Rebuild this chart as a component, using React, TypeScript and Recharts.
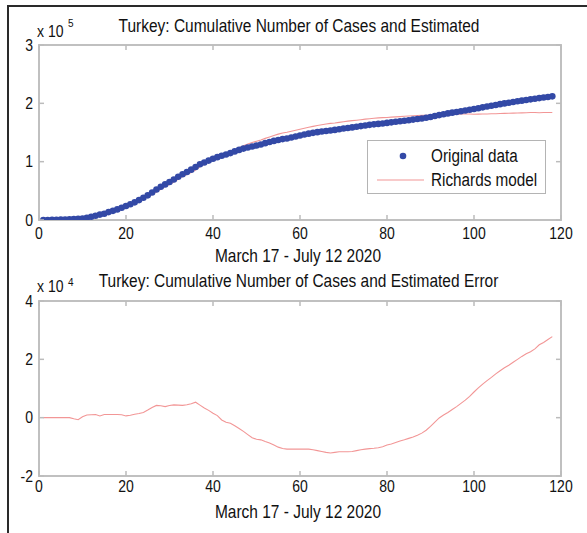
import React from "react";
import {
  ComposedChart,
  Line,
  Scatter,
  XAxis,
  YAxis,
  Legend,
  ReferenceArea,
} from "recharts";

// Day index 1..118 (March 17 - July 12 2020)
const cases: number[] = [
  47, 98, 191, 359, 670, 947, 1236, 1529, 1872, 2433, 3629, 5698, 7402, 9217, 10827,
  13531, 15679, 18135, 20921, 23934, 27069, 30217, 34109, 38226, 42282, 47029, 52167, 56956, 61049, 65111,
  69392, 74193, 78546, 82329, 86306, 90980, 95591, 98674, 101790, 104912, 107773, 110130, 112261, 114653, 117589,
  120204, 122392, 124375, 126045, 127659, 129491, 131744, 133721, 135569, 137115, 138657, 139771, 141475, 143114, 144749,
  146457, 148067, 149435, 150593, 151615, 152587, 153548, 154500, 155686, 156827, 157814, 158762, 159797, 160979, 162120, 163103,
  163942, 164769, 165555, 166422, 167410, 168340, 169218, 170132, 171121, 172114, 173036, 174023, 175218, 176677, 178239,
  179831, 181298, 182727, 184031, 185245, 186493, 187685, 188897, 190165, 191657, 193115, 194511, 195883, 197239, 198613,
  199906, 201098, 202284, 203456, 204610, 205758, 206844, 207897, 208938, 209962, 210965, 211981,
];

// Estimated error (data - Richards model)
const errors: number[] = [
  0, 0, 0, 0, 0, 0, 0, -400, -700, 300,
  900, 1000, 1100, 600, 1100, 1100, 1100, 1100, 1000, 600,
  800, 1200, 1400, 1800, 2600, 3500, 4200, 4100, 3800, 4200,
  4400, 4300, 4200, 4400, 4800, 5300, 4300, 3300, 2500, 1500,
  700, -800, -1600, -1900, -2800, -3700, -4700, -5800, -6900, -7400,
  -7600, -8200, -8700, -9400, -10100, -10600, -10800, -10800, -10800, -10800,
  -10800, -10800, -11000, -11300, -11600, -11900, -12100, -11900, -11700, -11700,
  -11700, -11600, -11300, -11000, -10800, -10600, -10500, -10300, -10000, -9400,
  -9000, -8500, -8000, -7600, -7100, -6600, -6000, -5300, -4300, -3000,
  -1500, -100, 900, 1800, 2800, 3800, 4900, 6000, 7300, 8800,
  10200, 11500, 12700, 13800, 15000, 16100, 17100, 18000, 19000, 20000,
  21000, 21900, 22600, 23600, 25000, 25800, 26800, 27800,
];

const xDomain = [0, 120];
const yDomainTop = [0, 300000];
const yDomainBottom = [-20000, 40000];
const xTicks = [0, 20, 40, 60, 80, 100, 120];
const yTicksTop = [0, 100000, 200000, 300000];
const yTicksBottom = [-20000, 0, 20000, 40000];

const topTitle = "Turkey: Cumulative Number of Cases and Estimated";
const bottomTitle = "Turkey: Cumulative Number of Cases and Estimated Error";
const xTitle = "March 17 - July 12 2020";
const seriesNames = ["Original data", "Richards model"];

const topData = cases.map((c, i) => ({
  day: i + 1,
  cases: c,
  model: c - errors[i],
}));
const bottomData = errors.map((e, i) => ({ day: i + 1, err: e }));

const FONT = "'Liberation Sans', Arial, Helvetica, sans-serif";
const AXIS = "#bcbcbc";
const BLUE = "#3349a6";
const RED = "#f29696";
const SY = 1.15; // vertical stretch of the original's lettering
const TL = 5; // inward tick length

const makeXTick = (margin: number) => (p: any) => {
  const base = p.y - margin;
  return (
    <g>
      <rect x={p.x - 0.75} y={base - TL} width={1.5} height={TL} fill={AXIS} />
      <g transform={`translate(${p.x},${p.y}) scale(1,${SY})`}>
        <text x={0} y={0} dy="0.72em" textAnchor="middle" fontSize={14} fontFamily={FONT} fill="#111">
          {p.payload.value}
        </text>
      </g>
    </g>
  );
};
const XTickTop = makeXTick(7);
const XTickBottom = makeXTick(4);

const makeYTick = (div: number, margin: number) => (p: any) => {
  const base = p.x + margin;
  return (
    <g>
      <rect x={base} y={p.y - 0.75} width={TL} height={1.5} fill={AXIS} />
      <g transform={`translate(${p.x},${p.y}) scale(1,${SY})`}>
        <text x={0} y={0} dy="0.36em" textAnchor="end" fontSize={14} fontFamily={FONT} fill="#111">
          {String(p.payload.value / div)}
        </text>
      </g>
    </g>
  );
};
const YTickTop = makeYTick(100000, 6);
const YTickBottom = makeYTick(10000, 6);

const TopTickMark = (p: any) => (
  <rect x={p.x - 0.75} y={p.y} width={1.5} height={TL} fill={AXIS} />
);
const RightTickMark = (p: any) => (
  <rect x={p.x - TL} y={p.y - 0.75} width={TL} height={1.5} fill={AXIS} />
);

const Dot = (p: any) => (
  <circle cx={p.cx} cy={p.cy} r={3.3} fill={BLUE} stroke="none" />
);

const STxt = (p: { x: number; y: number; size: number; anchor?: string; children: any }) => (
  <g transform={`translate(${p.x},${p.y}) scale(1,${SY})`}>
    <text x={0} y={0} fontSize={p.size} textAnchor={(p.anchor as any) || "start"}>
      {p.children}
    </text>
  </g>
);

const LegendBox = (props: any) => {
  const payload = props.payload || [];
  return (
    <div
      style={{
        width: 179,
        height: 54,
        border: "1px solid #b4b4b4",
        background: "#fff",
        boxSizing: "border-box",
        fontFamily: FONT,
        fontSize: 15.3,
        color: "#111",
        position: "relative",
      }}
    >
      {payload.map((entry: any, i: number) => (
        <div
          key={i}
          style={{
            position: "absolute",
            left: 0,
            top: i === 0 ? 5 : 29,
            height: 20,
            width: 178,
          }}
        >
          <svg
            width={60}
            height={20}
            style={{ position: "absolute", left: 0, top: 0 }}
          >
            {i === 0 ? (
              <circle cx={35} cy={10} r={3.3} fill={BLUE} />
            ) : (
              <line x1={9} x2={56} y1={10} y2={10} stroke={RED} strokeWidth={1.2} />
            )}
          </svg>
          <span
            style={{
              position: "absolute",
              left: 63,
              top: 1,
              lineHeight: "18px",
              whiteSpace: "nowrap",
              transform: `scaleY(${SY})`,
              transformOrigin: "0 50%",
            }}
          >
            {seriesNames[i]}
          </span>
        </div>
      ))}
    </div>
  );
};

const boxStyle = (top: number, height: number): React.CSSProperties => ({
  position: "absolute",
  left: 38,
  top,
  width: 524,
  height,
  border: "2px solid #cdcdcd",
  boxSizing: "border-box",
  pointerEvents: "none",
});

export default function App() {
  return (
    <div
      style={{
        position: "absolute",
        left: 0,
        top: 0,
        width: 587,
        height: 533,
        background: "#fff",
        overflow: "hidden",
      }}
    >
      {/* figure frame */}
      <div style={{ position: "absolute", left: 7, top: 5, width: 580, height: 2, background: "#2a2a2a" }} />
      <div style={{ position: "absolute", left: 7, top: 5, width: 2, height: 528, background: "#2a2a2a" }} />

      {/* axes boxes */}
      <div style={boxStyle(44, 177)} />
      <div style={boxStyle(300, 177)} />

      {/* top chart */}
      <div style={{ position: "absolute", left: 0, top: 0 }}>
        <ComposedChart
          width={587}
          height={260}
          data={topData}
          margin={{ top: 25, left: 9, right: 6, bottom: 10 }}
        >
          <XAxis
            xAxisId="b"
            dataKey="day"
            type="number"
            domain={xDomain}
            ticks={xTicks}
            height={30}
            tickSize={0}
            tickMargin={7}
            tick={<XTickTop />}
            axisLine={false}
            tickLine={false}
            allowDataOverflow
          />
          <XAxis
            xAxisId="t"
            orientation="top"
            dataKey="day"
            type="number"
            domain={xDomain}
            ticks={xTicks}
            height={20}
            tickSize={0}
            tickMargin={0}
            tick={<TopTickMark />}
            axisLine={false}
            tickLine={false}
            allowDataOverflow
          />
          <YAxis
            yAxisId="l"
            type="number"
            domain={yDomainTop}
            ticks={yTicksTop}
            width={30}
            tickSize={0}
            tickMargin={6}
            tick={<YTickTop />}
            axisLine={false}
            tickLine={false}
            allowDataOverflow
          />
          <YAxis
            yAxisId="r"
            orientation="right"
            type="number"
            domain={yDomainTop}
            ticks={yTicksTop}
            width={20}
            tickSize={0}
            tickMargin={0}
            tick={<RightTickMark />}
            axisLine={false}
            tickLine={false}
            allowDataOverflow
          />
          <ReferenceArea
            xAxisId="b"
            yAxisId="l"
            x1={xDomain[0]}
            x2={xDomain[1]}
            y1={yDomainTop[0]}
            y2={yDomainTop[1]}
            fill="none"
            fillOpacity={0}
            stroke={AXIS}
            strokeOpacity={1}
            strokeWidth={1.5}
            ifOverflow="visible"
          />
          <Scatter
            xAxisId="b"
            yAxisId="l"
            name={seriesNames[0]}
            dataKey="cases"
            fill={BLUE}
            shape={Dot}
            isAnimationActive={false}
          />
          <Line
            xAxisId="t"
            yAxisId="r"
            name={seriesNames[1]}
            dataKey="model"
            type="linear"
            stroke={RED}
            strokeWidth={1.1}
            dot={false}
            activeDot={false}
            isAnimationActive={false}
          />
          <Legend
            layout="horizontal"
            verticalAlign="middle"
            align="center"
            content={<LegendBox />}
            wrapperStyle={{ left: 367, top: 140, width: 179, height: 54 }}
          />
        </ComposedChart>
      </div>

      {/* bottom chart */}
      <div style={{ position: "absolute", left: 0, top: 260 }}>
        <ComposedChart
          width={587}
          height={273}
          data={bottomData}
          margin={{ top: 21, left: 9, right: 6, bottom: 27 }}
        >
          <XAxis
            xAxisId="b"
            dataKey="day"
            type="number"
            domain={xDomain}
            ticks={xTicks}
            height={30}
            tickSize={0}
            tickMargin={4}
            tick={<XTickBottom />}
            axisLine={false}
            tickLine={false}
            allowDataOverflow
          />
          <XAxis
            xAxisId="t"
            orientation="top"
            dataKey="day"
            type="number"
            domain={xDomain}
            ticks={xTicks}
            height={20}
            tickSize={0}
            tickMargin={0}
            tick={<TopTickMark />}
            axisLine={false}
            tickLine={false}
            allowDataOverflow
          />
          <YAxis
            yAxisId="l"
            type="number"
            domain={yDomainBottom}
            ticks={yTicksBottom}
            width={30}
            tickSize={0}
            tickMargin={6}
            tick={<YTickBottom />}
            axisLine={false}
            tickLine={false}
            allowDataOverflow
          />
          <YAxis
            yAxisId="r"
            orientation="right"
            type="number"
            domain={yDomainBottom}
            ticks={yTicksBottom}
            width={20}
            tickSize={0}
            tickMargin={0}
            tick={<RightTickMark />}
            axisLine={false}
            tickLine={false}
            allowDataOverflow
          />
          <ReferenceArea
            xAxisId="b"
            yAxisId="l"
            x1={xDomain[0]}
            x2={xDomain[1]}
            y1={yDomainBottom[0]}
            y2={yDomainBottom[1]}
            fill="none"
            fillOpacity={0}
            stroke={AXIS}
            strokeOpacity={1}
            strokeWidth={1.5}
            ifOverflow="visible"
          />
          <Line
            xAxisId="t"
            yAxisId="r"
            dataKey="err"
            type="linear"
            stroke={RED}
            strokeWidth={1.1}
            dot={false}
            activeDot={false}
            isAnimationActive={false}
          />
        </ComposedChart>
      </div>

      {/* titles and labels */}
      <svg
        width={587}
        height={533}
        style={{ position: "absolute", left: 0, top: 0, pointerEvents: "none" }}
        fontFamily={FONT}
        fill="#111"
      >
        <STxt x={299} y={31.5} size={15.5} anchor="middle">{topTitle}</STxt>
        <STxt x={37} y={36.5} size={14}>x 10</STxt>
        <STxt x={68} y={27} size={10}>5</STxt>
        <STxt x={298} y={261.5} size={15.5} anchor="middle">{xTitle}</STxt>

        <STxt x={298.5} y={286.5} size={15.5} anchor="middle">{bottomTitle}</STxt>
        <STxt x={37} y={292.3} size={14}>x 10</STxt>
        <STxt x={68} y={285.5} size={10}>4</STxt>
        <STxt x={298} y={517.5} size={15.5} anchor="middle">{xTitle}</STxt>
      </svg>
    </div>
  );
}
